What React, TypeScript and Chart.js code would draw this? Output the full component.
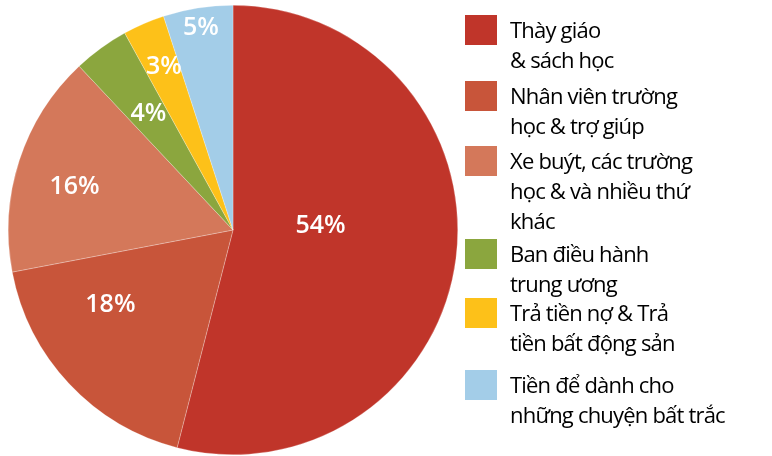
import React, { useEffect, useRef } from "react";
import { Chart, registerables } from "chart.js";

Chart.register(...registerables);

const categories: string[][] = [
  ["Thày giáo", "& sách học"],
  ["Nhân viên trường", "học & trợ giúp"],
  ["Xe buýt, các trường", "học & và nhiều thứ", "khác"],
  ["Ban điều hành", "trung ương"],
  ["Trả tiền nợ & Trả", "tiền bất động sản"],
  ["Tiền để dành cho", "những chuyện bất trắc"],
];
const values: number[] = [54, 18, 16, 4, 3, 5];
const valueLabels: string[] = ["54%", "18%", "16%", "4%", "3%", "5%"];
const colors: string[] = ["#C0352A", "#C8553A", "#D4785A", "#8BA63E", "#FDC119", "#A3CDE8"];

// label placement inside each slice: [fraction along the arc, fraction of radius]
const labelPlacement: [number, number][] = [
  [0.45, 0.39],
  [0.68, 0.64],
  [0.45, 0.73],
  [0.5, 0.64],
  [0.55, 0.79],
  [0.5, 0.91],
];
const legendTops: number[] = [14, 80, 145, 238, 297, 369];

const labelPlugin = {
  id: "sliceLabels",
  afterDatasetsDraw(chart: any) {
    const ctx = chart.ctx;
    const meta = chart.getDatasetMeta(0);
    ctx.save();
    ctx.fillStyle = "#ffffff";
    ctx.font = "600 25px 'Open Sans'";
    ctx.textAlign = "center";
    ctx.textBaseline = "middle";
    meta.data.forEach((arc: any, i: number) => {
      const p = arc.getProps(["x", "y", "startAngle", "endAngle", "outerRadius"], true);
      const [fa, fr] = labelPlacement[i];
      const a = p.startAngle + (p.endAngle - p.startAngle) * fa;
      const r = p.outerRadius * fr;
      ctx.fillText(valueLabels[i], p.x + Math.cos(a) * r, p.y + Math.sin(a) * r);
    });
    ctx.restore();
  },
};

export default function App() {
  const ref = useRef<HTMLCanvasElement | null>(null);
  useEffect(() => {
    document.body.style.margin = "0";
    if (!ref.current) return;
    const chart = new Chart(ref.current, {
      type: "pie",
      data: {
        labels: categories.map((c) => c.join(" ")),
        datasets: [
          {
            data: values,
            backgroundColor: colors,
            borderColor: "rgba(255,255,255,0.5)",
            borderWidth: 0.5,
          },
        ],
      },
      options: {
        responsive: false,
        animation: false,
        layout: { padding: { top: 5, bottom: 1, left: 8, right: 8 } },
        plugins: { legend: { display: false }, tooltip: { enabled: false } },
      },
      plugins: [labelPlugin],
    });
    return () => chart.destroy();
  }, []);

  return (
    <div style={{ position: "relative", width: 772, height: 456, background: "#fff", overflow: "hidden" }}>
      <canvas ref={ref} width={466} height={456} style={{ position: "absolute", left: 0, top: 0 }} />
      {categories.map((lines, i) => (
        <div
          key={i}
          style={{
            position: "absolute",
            left: 465,
            top: legendTops[i],
            display: "flex",
            alignItems: "flex-start",
          }}
        >
          <div
            style={{
              width: 32,
              height: 30,
              background: colors[i],
              marginTop: 1,
              flex: "none",
            }}
          />
          <div
            style={{
              marginLeft: 13,
              fontFamily: "'Open Sans', sans-serif",
              fontSize: 22,
              fontWeight: 500,
              lineHeight: "30px",
              letterSpacing: -0.8,
              color: "#000",
              whiteSpace: "nowrap",
            }}
          >
            {lines.map((l, j) => (
              <div key={j}>{l}</div>
            ))}
          </div>
        </div>
      ))}
    </div>
  );
}
